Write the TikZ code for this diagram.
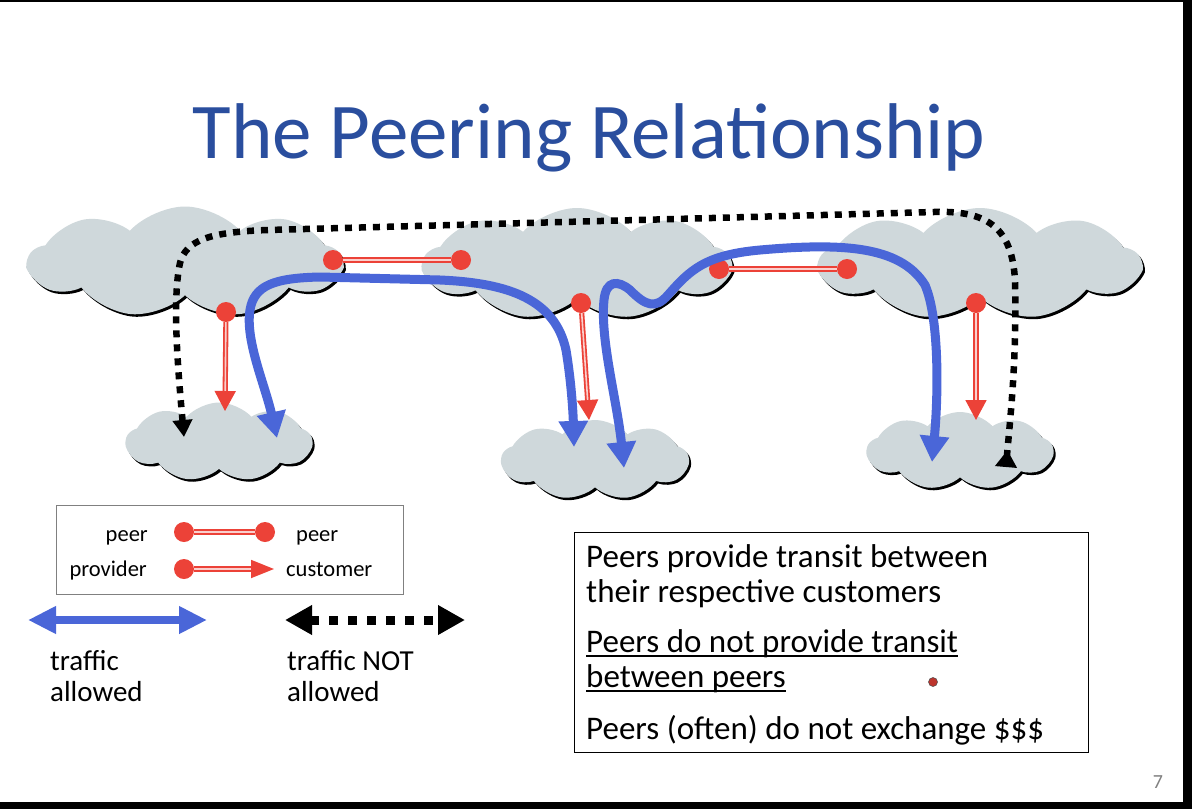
\documentclass[tikz,border=0pt]{standalone}
\usepackage{fontspec}
\setmainfont{Carlito}
\usetikzlibrary{arrows.meta,shapes.symbols,shadows,calc}
\definecolor{titleblue}{RGB}{42,78,158}
\definecolor{cloudgray}{RGB}{207,216,219}
\definecolor{peerred}{RGB}{236,66,56}
\definecolor{okblue}{RGB}{74,102,216}

\begin{document}
\begin{tikzpicture}[x=1pt,y=-1pt,
  isp/.style={cloud, cloud puffs=9, cloud puff arc=95, cloud ignores aspect, fill=cloudgray, inner sep=0pt,
    general shadow={fill=black, shadow xshift=2pt, shadow yshift=-2.5pt}},
  peerdot/.style={circle, fill=peerred, inner sep=0pt, minimum size=20pt},
  peerline/.style={draw=peerred, line width=1.8pt, double=peerred!25, double distance=1.6pt},
  provline/.style={peerline, -{Triangle[length=20pt,width=21pt]}},
  okway/.style={draw=okblue, line width=9pt, {Triangle[length=26pt,width=28pt]}-{Triangle[length=26pt,width=28pt]}},
  noway/.style={draw=black, line width=6.5pt, dash pattern=on 7pt off 7pt},
  legtext/.style={font=\fontsize{22.5}{27}\selectfont, inner sep=0pt},
  keytext/.style={font=\fontsize{29}{35}\selectfont, inner sep=0pt, anchor=base west},
  boxtext/.style={font=\fontsize{33}{39}\selectfont, inner sep=0pt, anchor=base west}]

% slide frame
\fill[black] (0,0) rectangle (1192,809);
\fill[white] (0,2) rectangle (1183,802);
\useasboundingbox (0,0) rectangle (1192,809);

\node[font=\fontsize{79}{90}\selectfont, text=titleblue, anchor=base, inner sep=0pt] (title) at (589,158) {The Peering Relationship};

% networks
\node[isp, minimum width=313pt, minimum height=111pt] (ispA) at (185,262) {};
\node[isp, minimum width=307pt, minimum height=112pt] (ispB) at (577,264) {};
\node[isp, minimum width=321pt, minimum height=112pt] (ispC) at (980,264) {};
\node[isp, minimum width=186pt, minimum height=79pt] (custA) at (219,442) {};
\node[isp, minimum width=187pt, minimum height=80pt] (custB) at (595,460) {};
\node[isp, minimum width=186pt, minimum height=78pt] (custC) at (960,451) {};

% not allowed
\coordinate (nA) at (184,437);
\coordinate (nC) at (1006,467);
\draw[noway, {Triangle[length=17pt,width=19pt]}-{Triangle[reversed,length=17pt,width=21pt]}] (nA) .. controls (178,370) and (172,300) .. (180,263) .. controls (186,240) and (210,232) .. (268,230) -- (934,212) .. controls (990,210) and (1012,230) .. (1015,280) .. controls (1017,360) and (1010,420) .. (nC);

% peers and providers
\node[peerdot] (pA) at (333,260) {};
\node[peerdot] (pB) at (461,260) {};
\node[peerdot] (qB) at (719,269) {};
\node[peerdot] (qC) at (847,269) {};
\node[peerdot] (rA) at (226,312) {};
\node[peerdot] (rB) at (581,303) {};
\node[peerdot] (rC) at (976,303) {};
\coordinate (tA) at (225,411);
\coordinate (tB) at (589,420);
\coordinate (tC) at (976,420);
\draw[peerline] (pA) -- (pB);
\draw[peerline] (qB) -- (qC);
\draw[provline] (rA) -- (tA);
\draw[provline] (rB) -- (tB);
\draw[provline] (rC) -- (tC);

% allowed
\coordinate (bA) at (277,438);
\coordinate (bB1) at (574,447);
\coordinate (bB2) at (624,468);
\coordinate (bC) at (932,462);
\draw[okway] (bA) .. controls (265,385) and (245,340) .. (250,310) .. controls (254,285) and (275,278) .. (320,277) -- (440,280) .. controls (510,283) and (555,300) .. (566,350) .. controls (571,380) and (573,410) .. (bB1);
\draw[okway] (bB2) .. controls (617,400) and (600,340) .. (604,300) .. controls (606,280) and (618,280) .. (630,290) .. controls (645,305) and (655,310) .. (668,295) .. controls (690,270) and (705,255) .. (760,250) .. controls (840,243) and (900,245) .. (925,285) .. controls (940,320) and (938,400) .. (bC);

% legend
\draw[gray, line width=1pt] (56,505) rectangle (403,594);
\node[legtext, anchor=base east] (lgp1) at (148,541) {peer};
\node[legtext, anchor=base east] (lgprov) at (147,576) {provider};
\node[legtext, anchor=base west] (lgp2) at (296,541) {peer};
\node[legtext, anchor=base west] (lgcust) at (286,576) {customer};
\node[peerdot] (lgL) at (184,532) {};
\node[peerdot] (lgR) at (265,532) {};
\node[peerdot] (lgP) at (184,569) {};
\coordinate (lgC) at (274,569);
\draw[peerline] (lgL) -- (lgR);
\draw[peerline, -{Triangle[length=23pt,width=18pt]}] (lgP) -- (lgC);

\coordinate (okL) at (28,620);
\coordinate (okR) at (207,620);
\coordinate (noL) at (285,620);
\coordinate (noR) at (465,620);
\draw[okway, line width=8pt, {Triangle[length=28pt,width=26pt]}-{Triangle[length=28pt,width=26pt]}] (okL) -- (okR);
\draw[noway, line width=9pt, dash pattern=on 9pt off 10pt, {Triangle[length=27pt,width=28pt]}-{Triangle[length=27pt,width=28pt]}] (noL) -- (noR);
\node[keytext] (ok1) at (50,670) {traffic};
\node[keytext] (ok2) at (50,701) {allowed};
\node[keytext] (no1) at (287,670) {traffic NOT};
\node[keytext] (no2) at (287,701) {allowed};

% summary
\draw[line width=1pt] (574,532) rectangle (1088,752);
\node[boxtext] (s1) at (586,567) {Peers provide transit between};
\node[boxtext] (s2) at (586,602) {their respective customers};
\node[boxtext] (s3) at (586,652) {Peers do not provide transit};
\node[boxtext] (s4) at (586,687) {between peers};
\node[boxtext] (s5) at (586,739) {Peers (often) do not exchange \$\$\$};
\draw[line width=1.3pt] ($(s3.base west)+(0,4)$) -- ($(s3.base east)+(0,4)$);
\draw[line width=1.3pt] ($(s4.base west)+(0,4)$) -- ($(s4.base east)+(0,4)$);
\node[circle, fill=peerred!80!black, draw=black!70, line width=0.5pt, minimum size=9pt, inner sep=0pt] (mark) at (933,682) {};

\node[font=\fontsize{20}{24}\selectfont, text=gray, anchor=base, inner sep=0pt] (page) at (1158,788) {7};
\end{tikzpicture}
\end{document}
